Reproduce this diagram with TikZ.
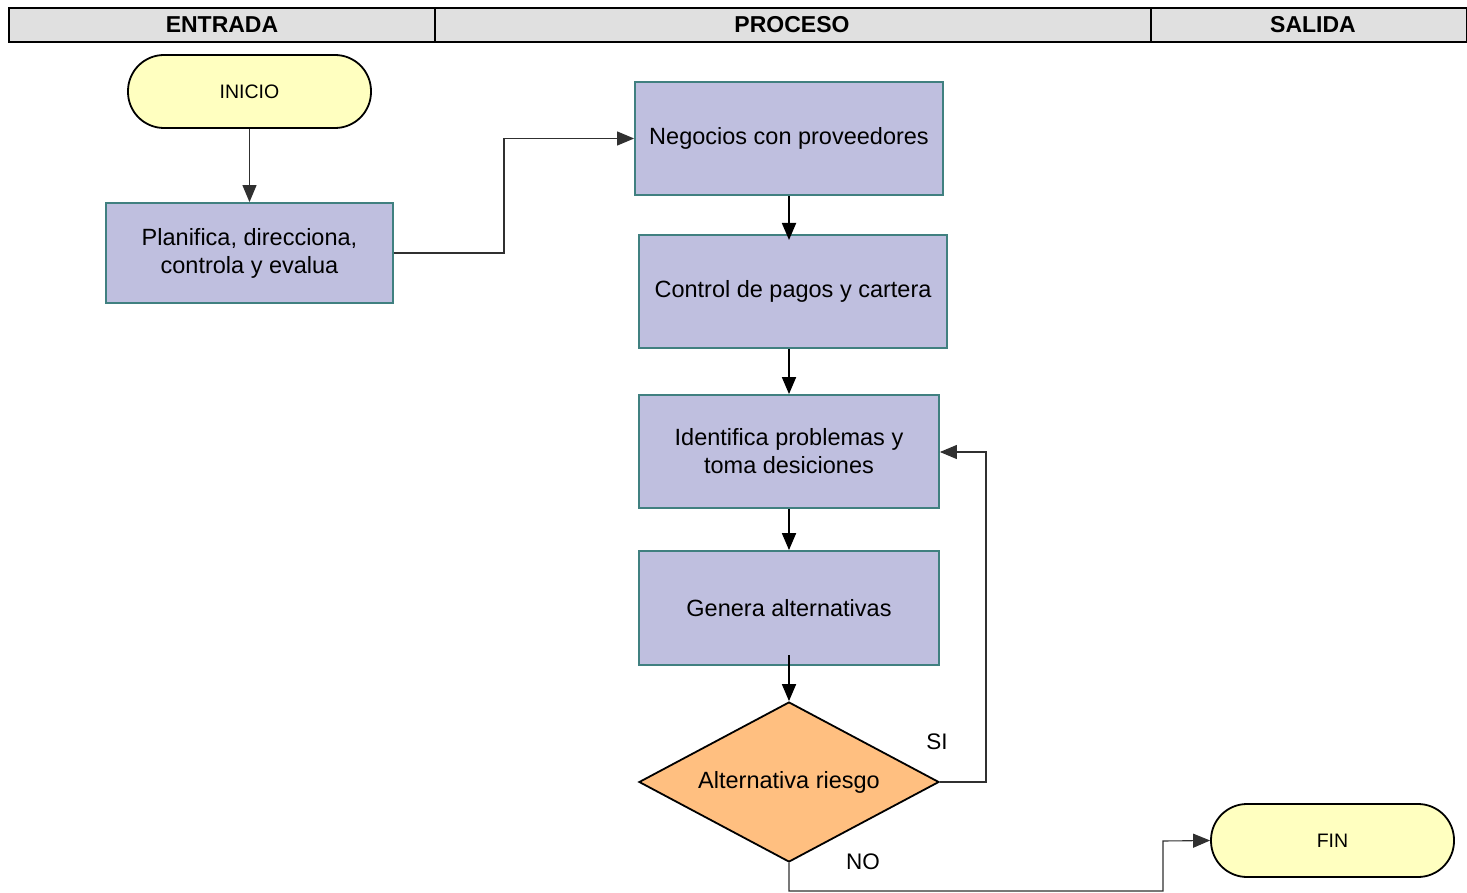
\documentclass[tikz,border=0pt]{standalone}
\usepackage{fontspec}
\setmainfont{Liberation Sans}
\usetikzlibrary{shapes.geometric,arrows.meta}
\definecolor{headfill}{HTML}{E0E0E0}
\definecolor{boxfill}{HTML}{BFBFDF}
\definecolor{boxline}{HTML}{408080}
\definecolor{termfill}{HTML}{FFFFC0}
\definecolor{decfill}{HTML}{FFBF80}
\definecolor{wire}{HTML}{303030}
\tikzset{
  header/.style={draw=black, line width=2pt, fill=headfill},
  headtext/.style={font=\fontsize{23}{25}\selectfont\bfseries},
  stepbox/.style={rectangle, draw=boxline, line width=1.8pt, fill=boxfill, inner sep=0pt,
    font=\fontsize{23.5}{28}\selectfont, align=center},
  terminal/.style={rectangle, rounded corners=36pt, draw=black, line width=1.8pt, fill=termfill,
    minimum width=243pt, minimum height=73pt, inner sep=0pt, font=\fontsize{19.5}{22}\selectfont},
  decision/.style={diamond, draw=black, line width=1.8pt, fill=decfill, aspect=1.875,
    minimum width=300pt, minimum height=160pt, inner sep=0pt, font=\fontsize{23.5}{26}\selectfont},
  link/.style={draw=black, line width=1.8pt, -{Triangle[length=17pt,width=14pt]}},
  elbow/.style={draw=wire, line width=1.1pt, -{Triangle[length=17pt,width=14pt]}},
  lbl/.style={font=\fontsize{22.5}{25}\selectfont, inner sep=0pt}
}
\begin{document}
\begin{tikzpicture}[x=1pt,y=-1pt]
\useasboundingbox (0,0) rectangle (1467,893);

% swimlane header
\draw[header] (9,8) rectangle (1467,42);
\draw[line width=2pt] (435,8) -- (435,42);
\draw[line width=2pt] (1151,8) -- (1151,42);
\node[headtext] (hin) at (222,25) {ENTRADA};
\node[headtext] (hpr) at (792,25) {PROCESO};
\node[headtext] (hout) at (1313,25) {SALIDA};

% flow nodes
\node[terminal] (inicio) at (249.5,91.5) {INICIO};
\node[stepbox, minimum width=287pt, minimum height=100pt] (plan) at (249.5,253) {Planifica, direcciona,\\controla y evalua};
\node[stepbox, minimum width=308pt, minimum height=113pt] (neg) at (789,138.5) {Negocios con proveedores};
\node[stepbox, minimum width=308pt, minimum height=113pt] (ctrl) at (793,291.5) {Control de pagos y cartera};
\node[stepbox, minimum width=300pt, minimum height=113pt] (ident) at (789,451.5) {Identifica problemas y\\toma desiciones};
\node[stepbox, minimum width=300pt, minimum height=114pt] (gen) at (789,608) {Genera alternativas};
\node[decision] (riesgo) at (789,782) {Alternativa riesgo};
\node[terminal] (fin) at (1332.5,840.5) {FIN};

% connectors
\coordinate (c1) at (504,253);
\coordinate (c2) at (504,138.5);
\coordinate (s1) at (986,782);
\coordinate (s2) at (986,452);
\coordinate (n1) at (789,891);
\coordinate (n2) at (1163,891);
\coordinate (n3) at (1163,841);

\draw[elbow] (inicio.south) -- (plan.north);
\draw[elbow] (plan.east) -- (c1) -- (c2) -- (neg.west);
\draw[link] (neg.south) -- (789,240);
\draw[link] (ctrl.south -| ident.north) -- (ident.north);
\draw[link] (ident.south) -- (gen.north);
\draw[link] (789,655) -- (riesgo.north);
\draw[elbow] (riesgo.east) -- (s1) -- (s2) -- (ident.east |- s2);
\draw[elbow] (riesgo.south) -- (n1) -- (n2) -- (n3) -- (fin.west);

% branch labels
\node[lbl] (si) at (937,742) {SI};
\node[lbl] (no) at (863,862) {NO};
\end{tikzpicture}
\end{document}
